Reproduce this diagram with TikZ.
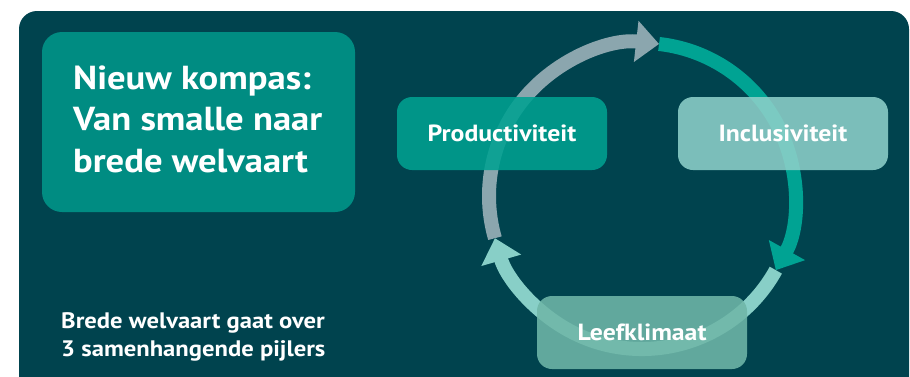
\documentclass[tikz,border=0pt]{standalone}
\usepackage{fontspec}
\setmainfont[FakeStretch=1.1]{PT Sans}
\usetikzlibrary{arrows.meta}
\definecolor{bgc}{RGB}{0,67,78}
\definecolor{titlec}{RGB}{0,140,130}
\definecolor{prodc}{RGB}{0,161,145}
\definecolor{inclc}{RGB}{141,208,201}
\definecolor{leefc}{RGB}{111,183,168}
\definecolor{ringgray}{RGB}{139,166,174}
\definecolor{ringteal}{RGB}{0,163,147}
\definecolor{ringlight}{RGB}{136,207,199}
\tikzset{
  ringarc/.style={line width=14pt, -{Triangle[length=23pt,width=40pt]}},
  pillar/.style={rounded corners=15pt, minimum width=210pt, minimum height=73pt,
    inner sep=0pt, text=white, fill opacity=0.88, text opacity=1,
    font=\bfseries\fontsize{23.4}{28}\selectfont},
  whitetext/.style={text=white, inner sep=0pt, align=left}
}
\begin{document}
\begin{tikzpicture}[x=1pt,y=-1pt]
\useasboundingbox (0,0) rectangle (910,376);
\fill[white] (0,0) rectangle (910,376);
\fill[bgc, rounded corners=18pt] (19,11) rectangle (909,420);
% ring
\coordinate (c) at (642,196);
\draw[ringarc, ringgray]  ([shift={(-196:153)}]c) arc[start angle=-196, end angle=-83.6, radius=153];
\draw[ringarc, ringteal]  ([shift={(-83.6:153)}]c) arc[start angle=-83.6, end angle=29, radius=153];
\draw[ringarc, ringlight] ([shift={(29:153)}]c) arc[start angle=29, end angle=164, radius=153];
% title box
\node[fill=titlec, rounded corners=20pt, minimum width=313pt, minimum height=180pt, inner sep=0pt] (titlebox) at (198.5,122) {};
\node[whitetext, anchor=north west, font=\bfseries\fontsize{33.3}{41.5}\selectfont] (title) at (73,65.5)
  {Nieuw kompas:\\Van smalle naar\\brede welvaart};
% pillars
\node[pillar, fill=prodc] (prod) at (502,133.5) {Productiviteit};
\node[pillar, fill=inclc] (incl) at (783,133.5) {Inclusiviteit};
\node[pillar, fill=leefc] (leef) at (642,332.5) {Leefklimaat};
% bottom text
\node[whitetext, anchor=north west, font=\bfseries\fontsize{22.4}{27.7}\selectfont] (note) at (61,312.5)
  {Brede welvaart gaat over\\3 samenhangende pijlers};
\end{tikzpicture}
\end{document}
